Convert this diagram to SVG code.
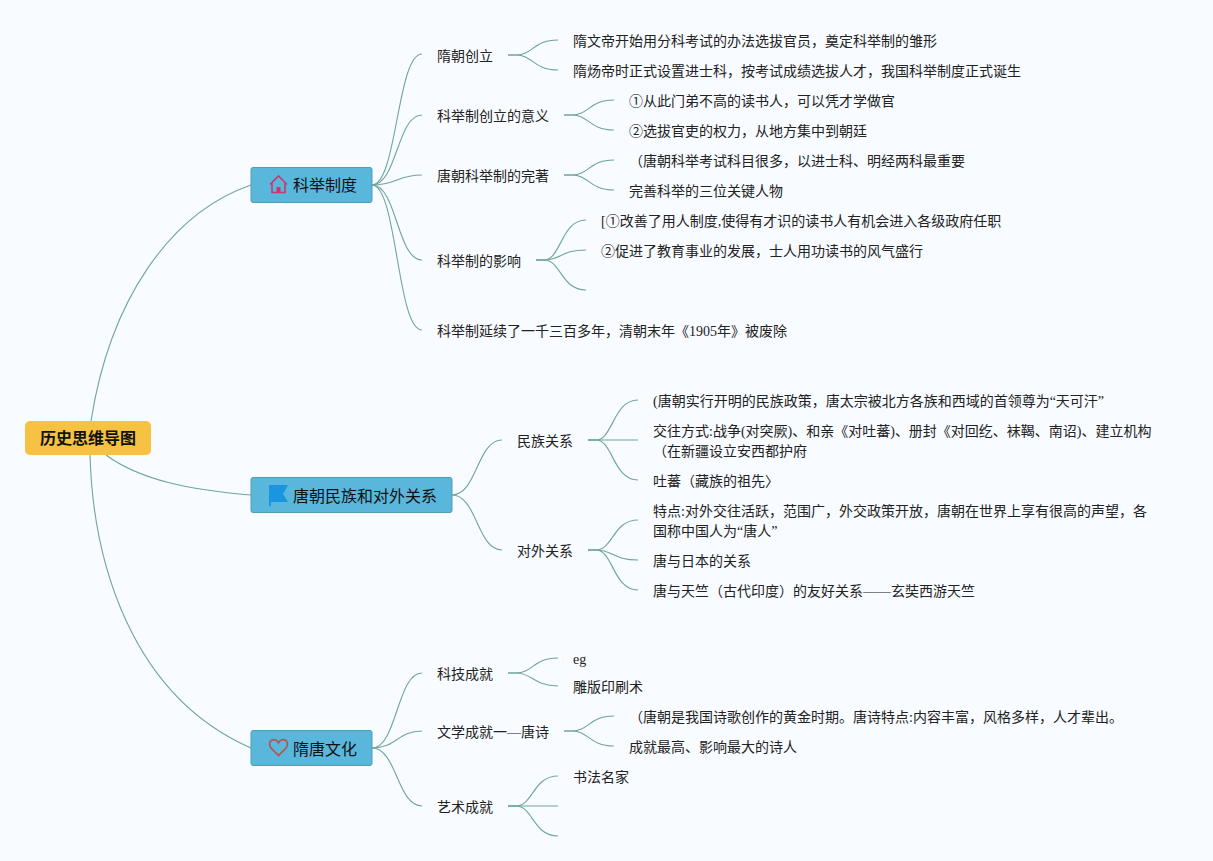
<svg xmlns="http://www.w3.org/2000/svg" width="1213" height="861" viewBox="0 0 1213 861">
<style>
text{font-family:"Liberation Serif","Noto Sans CJK SC",sans-serif;font-size:14px;fill:#222}
.m{font-size:16px;fill:#111}
.r{font-size:16px;font-weight:700;fill:#111}
.b{fill:#5ab7dc;stroke:#4f9fb2;stroke-width:1}
.c path{fill:none;stroke:#6fa698;stroke-width:1.100}
</style>
<rect width="1213" height="861" fill="#f8fbff"/>
<g class="c" id="connectors">
<path d="M91 421C110 300 170 213 251 185"/>
<path d="M90 455C93 560 130 695 251 748"/>
<path d="M106 455C140 480 190 490 251 495"/>
<path d="M372 185C397 185 397 54 422 54"/>
<path d="M372 185C397 185 397 115 422 115"/>
<path d="M372 185C397 185 397 175 422 175"/>
<path d="M372 185C397 185 397 260 422 260"/>
<path d="M372 185C397 185 397 330 422 330"/>
<path d="M508 55H516C533 55 533 40 558 40"/>
<path d="M508 55H516C533 55 533 70 558 70"/>
<path d="M564 115H572C589 115 589 100 614 100"/>
<path d="M564 115H572C589 115 589 130 614 130"/>
<path d="M564 175H572C589 175 589 160 614 160"/>
<path d="M564 175H572C589 175 589 190 614 190"/>
<path d="M536 260H544C561 260 561 220 586 220"/>
<path d="M536 260H544C561 260 561 250 586 250"/>
<path d="M536 260H544C561 260 561 290 586 290"/>
<path d="M452 495C477 495 477 440 502 440"/>
<path d="M452 495C477 495 477 550 502 550"/>
<path d="M588 440H596C613 440 613 400 638 400"/>
<path d="M588 440H638"/>
<path d="M588 440H596C613 440 613 480 638 480"/>
<path d="M588 550H596C613 550 613 520 638 520"/>
<path d="M588 550H596C613 550 613 560 638 560"/>
<path d="M588 550H596C613 550 613 590 638 590"/>
<path d="M372 748C397 748 397 673 422 673"/>
<path d="M372 748C397 748 397 731 422 731"/>
<path d="M372 748C397 748 397 806 422 806"/>
<path d="M508 673H516C533 673 533 658 558 658"/>
<path d="M508 673H516C533 673 533 686 558 686"/>
<path d="M564 731H572C589 731 589 716 614 716"/>
<path d="M564 731H572C589 731 589 746 614 746"/>
<path d="M508 806H516C533 806 533 776 558 776"/>
<path d="M508 806H558"/>
<path d="M508 806H516C533 806 533 836 558 836"/>
</g>
<g id="root"><rect x="25" y="421" width="126" height="34" rx="5" fill="#f5c242"/><text class="r" x="40" y="444">历史思维导图</text></g>
<g id="n1"><rect class="b" x="251" y="167.500" width="121" height="35" rx="2"/>
<path d="M270 184.500L278.500 176L287 184.500M272 183V192.500H285V183" fill="none" stroke="#c9376b" stroke-width="1.600"/><rect x="276.500" y="187" width="4" height="6" fill="#c9376b"/>
<text class="m" x="293" y="191">科举制度</text></g>
<g id="n2"><rect class="b" x="251" y="477.500" width="201" height="35" rx="2"/>
<path d="M269 485H288L283 494L288 502H271V506H269Z" fill="#1a96e0"/>
<text class="m" x="293" y="502">唐朝民族和对外关系</text></g>
<g id="n3"><rect class="b" x="251" y="730.500" width="121" height="35" rx="2"/>
<path d="M278.500 755.500L271 748C266 741 275 736 278.500 743C282 736 291 741 286 748Z" fill="none" stroke="#b9504f" stroke-width="1.600"/>
<text class="m" x="293" y="755">隋唐文化</text></g>
<g id="n1a"><text x="437" y="61">隋朝创立</text></g>
<g id="n1a1"><text x="573" y="46">隋文帝开始用分科考试的办法选拔官员，奠定科举制的雏形</text></g>
<g id="n1a2"><text x="573" y="76">隋炀帝时正式设置进士科，按考试成绩选拔人才，我国科举制度正式诞生</text></g>
<g id="n1b"><text x="437" y="121">科举制创立的意义</text></g>
<g id="n1b1"><text x="629" y="106">①从此门弟不高的读书人，可以凭才学做官</text></g>
<g id="n1b2"><text x="629" y="136">②选拔官吏的权力，从地方集中到朝廷</text></g>
<g id="n1c"><text x="437" y="181">唐朝科举制的完著</text></g>
<g id="n1c1"><text x="629" y="166">（唐朝科举考试科目很多，以进士科、明经两科最重要</text></g>
<g id="n1c2"><text x="629" y="196">完善科举的三位关键人物</text></g>
<g id="n1d"><text x="437" y="266">科举制的影响</text></g>
<g id="n1d1"><text x="601" y="226">[①改善了用人制度,使得有才识的读书人有机会进入各级政府任职</text></g>
<g id="n1d2"><text x="601" y="256">②促进了教育事业的发展，士人用功读书的风气盛行</text></g>
<g id="n1e"><text x="437" y="336">科举制延续了一千三百多年，清朝末年《1905年》被废除</text></g>
<g id="n2a"><text x="517" y="446">民族关系</text></g>
<g id="n2a1"><text x="653" y="406">(唐朝实行开明的民族政策，唐太宗被北方各族和西域的首领尊为“天可汗”</text></g>
<g id="n2a2"><text x="653" y="436">交往方式:战争(对突厥)、和亲《对吐蕃)、册封《对回纥、袜鞨、南诏)、建立机构</text><text x="653" y="456">（在新疆设立安西都护府</text></g>
<g id="n2a3"><text x="653" y="486">吐蕃（藏族的祖先〉</text></g>
<g id="n2b"><text x="517" y="556">对外关系</text></g>
<g id="n2b1"><text x="653" y="516">特点:对外交往活跃，范围广，外交政策开放，唐朝在世界上享有很高的声望，各</text><text x="653" y="536">国称中国人为“唐人”</text></g>
<g id="n2b2"><text x="653" y="566">唐与日本的关系</text></g>
<g id="n2b3"><text x="653" y="596">唐与天竺（古代印度）的友好关系——玄奘西游天竺</text></g>
<g id="n3a"><text x="437" y="679">科技成就</text></g>
<g id="n3a1"><text x="573" y="664">eg</text></g>
<g id="n3a2"><text x="573" y="692">雕版印刷术</text></g>
<g id="n3b"><text x="437" y="737">文学成就一—唐诗</text></g>
<g id="n3b1"><text x="629" y="722">（唐朝是我国诗歌创作的黄金时期。唐诗特点:内容丰富，风格多样，人才辈出。</text></g>
<g id="n3b2"><text x="629" y="752">成就最高、影响最大的诗人</text></g>
<g id="n3c"><text x="437" y="812">艺术成就</text></g>
<g id="n3c1"><text x="573" y="782">书法名家</text></g>
</svg>
